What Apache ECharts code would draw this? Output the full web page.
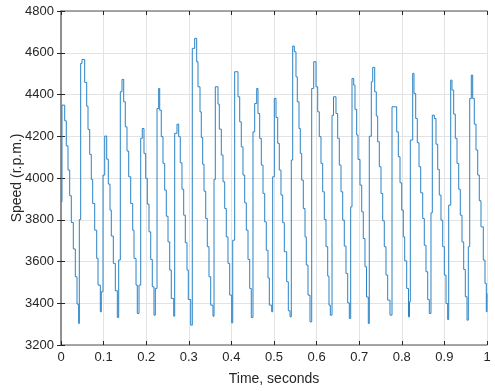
<!DOCTYPE html>
<html>
<head>
<meta charset="utf-8">
<script src="https://cdn.jsdelivr.net/npm/echarts@6/dist/echarts.min.js"></script>
<style>
  html, body { margin: 0; padding: 0; background: #fff; }
  #speed_chart { width: 495px; height: 391px; }
</style>
</head>
<body>
<div id="speed_chart"></div>
<script>
  // sample instants (s), one line per speed cycle
  var timeSec = [
    0, 0.0023, 0.0087, 0.0124, 0.0164, 0.0204, 0.0242, 0.0289, 0.0336, 0.0376, 0.0415,
    0.0430, 0.0462, 0.0493, 0.0556, 0.0603, 0.0634, 0.0674, 0.0711, 0.0744, 0.0791, 0.0838, 0.0869, 0.0923,
    0.0946, 0.0986, 0.1026, 0.1073, 0.1110, 0.1150, 0.1181, 0.1228, 0.1275, 0.1322,
    0.1354, 0.1392, 0.1432, 0.1472, 0.1509, 0.1549, 0.1589, 0.1636, 0.1683, 0.1714, 0.1761, 0.1791,
    0.1831, 0.1871, 0.1908, 0.1948, 0.1988, 0.2026, 0.2066, 0.2106, 0.2143, 0.2183,
    0.2214, 0.2254, 0.2293, 0.2317, 0.2354, 0.2394, 0.2434, 0.2472, 0.2512, 0.2552, 0.2589, 0.2646,
    0.2669, 0.2723, 0.2763, 0.2800, 0.2840, 0.2880, 0.2918, 0.2958, 0.2988, 0.3045,
    0.3082, 0.3138, 0.3185, 0.3216, 0.3263, 0.3293, 0.3326, 0.3357, 0.3397, 0.3434, 0.3474, 0.3514, 0.3568,
    0.3592, 0.3622, 0.3685, 0.3716, 0.3763, 0.3803, 0.3843, 0.3880, 0.3920, 0.3960, 0.4007,
    0.4031, 0.4077, 0.4155, 0.4195, 0.4232, 0.4272, 0.4312, 0.4350, 0.4390, 0.4430, 0.4467,
    0.4507, 0.4547, 0.4594, 0.4624, 0.4664, 0.4702, 0.4742, 0.4782, 0.4819, 0.4859, 0.4890, 0.4946,
    0.4969, 0.5007, 0.5047, 0.5087, 0.5124, 0.5164, 0.5204, 0.5242, 0.5298, 0.5336, 0.5376,
    0.5406, 0.5439, 0.5477, 0.5516, 0.5547, 0.5587, 0.5617, 0.5650, 0.5688, 0.5728, 0.5758, 0.5798, 0.5845,
    0.5885, 0.5932, 0.5986, 0.6026, 0.6063, 0.6103, 0.6143, 0.6181, 0.6221, 0.6261, 0.6291, 0.6322,
    0.6362, 0.6397, 0.6455, 0.6495, 0.6533, 0.6573, 0.6613, 0.6650, 0.6690, 0.6730, 0.6768,
    0.6800, 0.6831, 0.6871, 0.6901, 0.6941, 0.6972, 0.7019, 0.7059, 0.7096, 0.7136, 0.7171, 0.7214,
    0.7237, 0.7284, 0.7317, 0.7364, 0.7401, 0.7434, 0.7472, 0.7512, 0.7552, 0.7589, 0.7629, 0.7669, 0.7723,
    0.7770, 0.7880, 0.7918, 0.7958, 0.7998, 0.8035, 0.8068, 0.8115, 0.8157,
    0.8181, 0.8200, 0.8256, 0.8286, 0.8326, 0.8364, 0.8404, 0.8444, 0.8491, 0.8528, 0.8568, 0.8608, 0.8646,
    0.8685, 0.8716, 0.8763, 0.8803, 0.8843, 0.8880, 0.8920, 0.8960, 0.8998, 0.9038, 0.9077,
    0.9101, 0.9148, 0.9178, 0.9218, 0.9256, 0.9296, 0.9336, 0.9373, 0.9413, 0.9453, 0.9491, 0.9531,
    0.9561, 0.9594, 0.9632, 0.9664, 0.9702, 0.9742, 0.9782, 0.9819, 0.9859, 0.9913, 0.9953, 0.9984, 1.0000
  ];

  // speed held from each instant (r.p.m.)
  var speedRpm = [
    3886, 4349, 4274, 4154, 4038, 3915, 3787, 3660, 3527, 3396, 3303,
    3801, 4549, 4568, 4458, 4344, 4233, 4113, 3993, 3878, 3750, 3615, 3487, 3359,
    3455, 4014, 4201, 4090, 3971, 3846, 3722, 3591, 3460, 3332,
    3607, 4413, 4472, 4365, 4245, 4129, 4006, 3878, 3750, 3615, 3487, 3351,
    3487, 4190, 4237, 4118, 3998, 3875, 3742, 3610, 3479, 3343,
    3471, 4333, 4429, 4325, 4198, 4070, 3942, 3817, 3694, 3559, 3423, 3338,
    4214, 4258, 4198, 4073, 3946, 3822, 3690, 3559, 3418, 3295,
    4621, 4669, 4557, 4437, 4317, 4194, 4066, 3937, 3806, 3671, 3527, 3391, 3338,
    3993, 4437, 4354, 4234, 4110, 3982, 3854, 3718, 3591, 3439, 3306,
    3702, 4509, 4389, 4269, 4149, 4014, 3881, 3750, 3610, 3471, 3332,
    4221, 4357, 4429, 4309, 4190, 4062, 3926, 3790, 3654, 3521, 3391, 3359,
    4006, 4381, 4290, 4166, 4038, 3918, 3786, 3647, 3503, 3364, 3335,
    4086, 4632, 4605, 4485, 4365, 4237, 4118, 3990, 3854, 3718, 3583, 3439, 3311,
    4429, 4557, 4437, 4317, 4198, 4070, 3934, 3801, 3671, 3530, 3391, 3343,
    4300, 4389, 4309, 4190, 4062, 3934, 3798, 3674, 3543, 3402, 3327,
    3862, 4477, 4445, 4329, 4206, 4089, 3966, 3838, 3710, 3575, 3430, 3303,
    4200, 4461, 4530, 4413, 4297, 4174, 4054, 3926, 3795, 3671, 3535, 3415, 3343,
    4341, 4221, 4102, 3977, 3846, 3718, 3603, 3471, 3335,
    3407, 4182, 4501, 4405, 4285, 4169, 4054, 3929, 3806, 3678, 3551, 3418, 3351,
    3833, 4301, 4285, 4162, 4041, 3918, 3798, 3671, 3535, 3399, 3322,
    3870, 4469, 4421, 4306, 4190, 4070, 3946, 3822, 3694, 3562, 3431, 3319,
    3671, 4381, 4493, 4381, 4258, 4134, 4014, 3891, 3766, 3607, 3495, 3359, 3447
  ];

  var xRange = [0, 1];
  var yRange = [3200, 4800];

  var chart = echarts.init(document.getElementById('speed_chart'));

  var axisColor = '#262626';
  var boxColor = '#8a8a8a';
  var gridColor = '#e3e3e3';
  var lineColor = '#2a83c6';
  var font = '"Liberation Sans", Arial, Helvetica, sans-serif';

  // one item per hold: [t start, speed, t next, next speed]
  var holdData = [];
  for (var i = 0; i < timeSec.length - 1; i++) {
    holdData.push([timeSec[i], speedRpm[i], timeSec[i + 1], speedRpm[i + 1]]);
  }

  // draw each hold as a horizontal run then a vertical jump (zero-order hold)
  function renderHold (params, api) {
    var p0 = api.coord([api.value(0), api.value(1)]);
    var p1 = api.coord([api.value(2), api.value(1)]);
    var p2 = api.coord([api.value(2), api.value(3)]);
    return {
      type: 'polyline',
      shape: { points: [p0, p1, p2] },
      style: { stroke: lineColor, lineWidth: 1, fill: null }
    };
  }

  var option = {
    animation: false,
    backgroundColor: '#ffffff',
    grid: { left: 61, right: 8, top: 11, bottom: 46, containLabel: false, outerBoundsMode: 'none' },
    xAxis: [{
      type: 'value',
      min: xRange[0], max: xRange[1], interval: 0.1,
      name: 'Time, seconds',
      nameLocation: 'middle',
      nameGap: 27,
      nameMoveOverlap: false,
      nameTextStyle: { color: axisColor, fontSize: 14, fontFamily: font },
      axisLine: { show: true, lineStyle: { color: boxColor, width: 1.5 } },
      axisTick: { show: true, inside: true, length: 4, lineStyle: { color: axisColor } },
      axisLabel: { color: axisColor, fontSize: 13, fontFamily: font, margin: 6 },
      splitLine: { show: true, lineStyle: { color: gridColor, width: 1 } }
    }, {
      type: 'value', position: 'top',
      min: xRange[0], max: xRange[1], interval: 0.1,
      axisLine: { show: true, lineStyle: { color: boxColor, width: 1.5 } },
      axisTick: { show: true, inside: true, length: 4, lineStyle: { color: axisColor } },
      axisLabel: { show: false },
      splitLine: { show: false }
    }],
    yAxis: [{
      type: 'value',
      min: yRange[0], max: yRange[1], interval: 200,
      name: 'Speed (r.p.m.)',
      nameLocation: 'middle',
      nameGap: 37,
      nameRotate: 90,
      nameMoveOverlap: false,
      nameTextStyle: { color: axisColor, fontSize: 14, fontFamily: font },
      axisLine: { show: true, lineStyle: { color: boxColor, width: 1.5 } },
      axisTick: { show: true, inside: true, length: 4, lineStyle: { color: axisColor } },
      axisLabel: {
        color: axisColor, fontSize: 13, fontFamily: font, margin: 7,
        formatter: function (v) { return String(v); }
      },
      splitLine: { show: true, lineStyle: { color: gridColor, width: 1 } }
    }, {
      type: 'value', position: 'right',
      min: yRange[0], max: yRange[1], interval: 200,
      axisLine: { show: true, lineStyle: { color: boxColor, width: 1.5 } },
      axisTick: { show: true, inside: true, length: 4, lineStyle: { color: axisColor } },
      axisLabel: { show: false },
      splitLine: { show: false }
    }],
    series: [{
      name: 'speed',
      type: 'custom',
      xAxisIndex: 0,
      yAxisIndex: 0,
      renderItem: renderHold,
      encode: { x: [0, 2], y: [1, 3] },
      data: holdData,
      z: 10
    }]
  };

  option && chart.setOption(option);
</script>
</body>
</html>
